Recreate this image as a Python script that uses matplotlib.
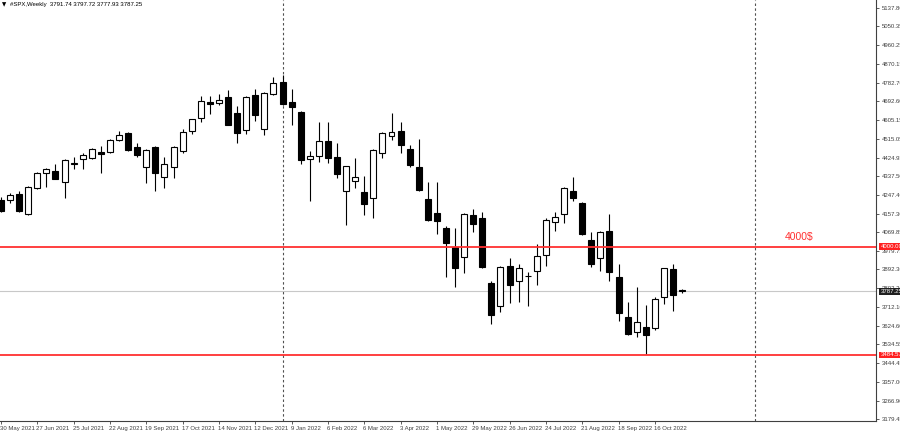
import matplotlib
matplotlib.use("Agg")
import matplotlib.pyplot as plt
import matplotlib.transforms as mtransforms
import numpy as np
import pandas as pd

plt.rcParams['font.family'] = ['Liberation Sans', 'DejaVu Sans']

# weekly S&P 500 bars
first_week = '2021-05-30'
opens = [4222.9, 4222.9, 4251.5, 4156.2, 4280.1, 4351.6, 4361.1, 4308.7, 4394.4, 4418.3,
         4423.0, 4451.6, 4451.6, 4508.8, 4542.2, 4475.4, 4380.1, 4475.4, 4332.5, 4380.1,
         4456.4, 4551.7, 4613.6, 4689.9, 4685.1, 4713.7, 4637.5, 4556.4, 4723.2, 4561.2,
         4728.0, 4785.2, 4689.9, 4642.2, 4418.3, 4432.6, 4504.0, 4427.8, 4265.8, 4313.4,
         4261.0, 4232.4, 4446.9, 4527.9, 4551.7, 4465.9, 4380.1, 4227.7, 4160.9, 4089.5,
         3998.9, 3951.3, 4151.4, 4137.1, 3827.4, 3717.8, 3908.4, 3836.9, 3858.4, 3884.6,
         3960.8, 4118.1, 4156.2, 4265.8, 4208.6, 4032.3, 3946.5, 4075.2, 3856.0, 3665.4,
         3593.9, 3617.7, 3613.0, 3760.7, 3894.1, 3791.74]
highs = [4237.2, 4256.3, 4265.8, 4289.6, 4356.3, 4375.4, 4394.4, 4418.3, 4427.8, 4446.9,
         4470.7, 4480.2, 4513.6, 4551.7, 4546.9, 4494.5, 4465.9, 4480.2, 4427.8, 4480.2,
         4561.2, 4610.0, 4718.5, 4718.5, 4728.0, 4747.0, 4670.8, 4718.5, 4751.8, 4737.5,
         4809.0, 4818.5, 4751.8, 4647.0, 4456.4, 4594.6, 4594.6, 4494.5, 4385.0, 4423.0,
         4337.3, 4465.9, 4546.9, 4637.5, 4594.6, 4485.0, 4513.6, 4308.7, 4308.7, 4099.0,
         4089.5, 4160.9, 4180.0, 4165.7, 3836.9, 3908.4, 3946.5, 3917.9, 3879.8, 4013.2,
         4137.1, 4165.7, 4284.8, 4332.5, 4213.0, 4070.4, 4075.2, 4156.2, 3917.9, 3736.9,
         3808.3, 3722.6, 3760.7, 3900.0, 3917.9, 3797.72]
lows = [4165.7, 4208.6, 4168.0, 4151.4, 4275.3, 4284.8, 4321.0, 4232.4, 4370.6, 4370.6,
        4420.0, 4351.6, 4449.0, 4504.0, 4456.4, 4427.8, 4303.9, 4265.8, 4280.1, 4327.7,
        4446.9, 4537.4, 4594.6, 4632.7, 4675.6, 4578.0, 4494.5, 4537.4, 4599.3, 4532.6,
        4723.2, 4677.0, 4580.3, 4394.4, 4218.1, 4404.0, 4399.2, 4327.7, 4103.8, 4280.1,
        4151.4, 4137.1, 4423.0, 4508.8, 4446.9, 4380.1, 4268.0, 4122.8, 4060.9, 3856.0,
        3808.3, 3875.1, 4070.4, 3900.0, 3632.0, 3689.2, 3732.1, 3736.9, 3717.8, 3817.9,
        3908.4, 4075.2, 4113.3, 4218.1, 4058.0, 3903.6, 3884.6, 3836.9, 3646.3, 3578.0,
        3570.1, 3489.1, 3603.4, 3727.3, 3694.0, 3777.93]
closes = [4170.5, 4246.7, 4170.5, 4284.8, 4351.6, 4370.6, 4323.0, 4413.5, 4401.6, 4437.3,
          4465.9, 4442.1, 4508.8, 4532.6, 4461.1, 4437.3, 4461.1, 4351.6, 4394.4, 4475.4,
          4546.9, 4608.9, 4694.6, 4680.3, 4699.4, 4580.3, 4542.2, 4713.7, 4627.9, 4732.8,
          4780.4, 4680.3, 4666.0, 4413.5, 4432.6, 4504.0, 4423.0, 4346.8, 4384.9, 4332.5,
          4203.8, 4461.1, 4542.2, 4546.9, 4485.0, 4389.7, 4270.5, 4127.6, 4122.8, 4018.0,
          3898.9, 4156.2, 4108.5, 3903.6, 3674.9, 3903.6, 3817.9, 3898.9, 3860.8, 3956.1,
          4127.6, 4141.9, 4280.1, 4232.4, 4060.9, 3917.9, 4070.4, 3879.8, 3684.5, 3584.4,
          3641.6, 3579.6, 3751.2, 3898.9, 3770.2, 3787.25]

level_hi = 4000.00
level_lo = 3484.57
level_hi_note = '4000$'
last_price = closes[-1]

price_ticks = [5137.80, 5050.35, 4960.25, 4870.15, 4782.70, 4692.60, 4605.15, 4515.05,
               4424.95, 4337.50, 4247.40, 4157.30, 4069.85, 3979.75, 3892.30, 3802.20,
               3712.10, 3624.60, 3534.55, 3444.45, 3357.00, 3266.90, 3179.45]

header = '#SPX,Weekly  3791.74 3797.72 3777.93 3787.25'

# ---------------------------------------------------------------
n = len(opens)
o = np.array(opens); h = np.array(highs); l = np.array(lows); c = np.array(closes)
x = np.arange(n)
dates = pd.date_range(first_week, periods=n + 30, freq='7D')

fig = plt.figure(figsize=(9, 4.32), dpi=100)
ax = fig.add_axes([0, 11 / 432, 876 / 900, 421 / 432])

ax.set_xlim(-0.11, 96.35)
ax.set_ylim(3169.85, 5175.92)

# year separators
year_starts = [i for i in range(1, len(dates)) if dates[i].year != dates[i - 1].year]
for i in year_starts:
    if i < 96:
        ax.axvline(i, color='#505050', lw=0.8, ls=(0, (2.2, 2.2)), zorder=1)

# levels
ax.axhline(last_price, color='#c8c8c8', lw=0.8, zorder=1)
ax.axhline(level_hi, color='#ff3030', lw=1.3, zorder=4)
ax.axhline(level_lo, color='#ff3030', lw=1.3, zorder=4)
ax.text(87.9, level_hi + 22, level_hi_note, color='#ff3030', fontsize=7.5,
        ha='center', va='bottom')

# candles
ax.vlines(x, l, h, color='black', lw=0.8, zorder=2)
up = c >= o
body_lo = np.minimum(o, c)
body_h = np.maximum(np.abs(c - o), 2.5)
ax.bar(x[up], body_h[up], bottom=body_lo[up], width=0.66, color='white',
       edgecolor='black', linewidth=0.8, zorder=3)
ax.bar(x[~up], body_h[~up], bottom=body_lo[~up], width=0.66, color='black',
       edgecolor='black', linewidth=0.8, zorder=3)

# axes styling
for s in ['left', 'top']:
    ax.spines[s].set_visible(False)
for s in ['right', 'bottom']:
    ax.spines[s].set_color('#404040')
    ax.spines[s].set_linewidth(0.8)

ax.yaxis.tick_right()
ax.set_yticks(price_ticks)
ax.set_yticklabels(['%.2f' % v for v in price_ticks])
ax.tick_params(axis='y', labelsize=4.3, length=2.5, width=0.6, pad=1.5, colors='#404040')

xt = list(range(0, n, 4))
ax.set_xticks(xt)
ax.set_xticklabels(['%d %s' % (dates[i].day, dates[i].strftime('%b %Y')) for i in xt],
                   ha='left')
ax.tick_params(axis='x', labelsize=4.3, length=2, width=0.6, pad=1.5, colors='#404040')
for lab in ax.get_xticklabels():
    lab.set_transform(lab.get_transform() + mtransforms.ScaledTranslation(-1 / 100, 0, fig.dpi_scale_trans))

# price tags on the scale
tag_tr = mtransforms.blended_transform_factory(ax.transAxes, ax.transData)
for val, bg in [(level_hi, '#ff2020'), (level_lo, '#ff2020'), (last_price, '#202020')]:
    ax.text(1.005, val, '%.2f' % val, transform=tag_tr, fontsize=4.3, color='white',
            va='center', ha='left', clip_on=False, zorder=10,
            bbox=dict(boxstyle='square,pad=0.15', fc=bg, ec='none'))

# header
ax.text(0.002, 0.995, '▼', transform=ax.transAxes, fontsize=4, va='top', ha='left',
        family=['DejaVu Sans'])
ax.text(0.011, 0.995, header, transform=ax.transAxes, fontsize=4.3, va='top', ha='left')

fig.savefig('out.png', dpi=100)
